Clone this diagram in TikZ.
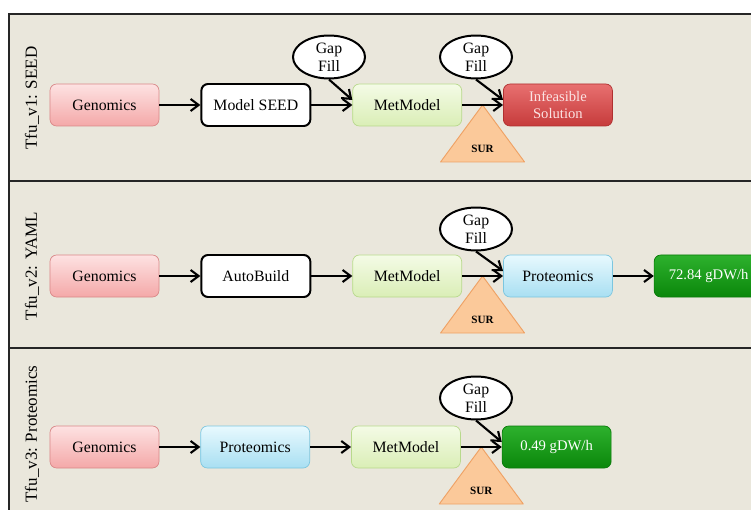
\documentclass[tikz,border=0pt]{standalone}
\usepackage{fontspec}
\setmainfont{Liberation Serif}
\usetikzlibrary{positioning, shapes.geometric, arrows.meta, calc}

\begin{document}
\begin{tikzpicture}
        [ x=0.03cm, y=-0.03cm
        , node distance=1.23cm
        , box/.style={rounded corners=2mm, minimum width=3.27cm, minimum height=1.26cm, inner sep=1mm, line width=0.6pt, font=\fontsize{13.5}{15.5}\selectfont}
        , gen/.style={box, draw=genB, top color=genT, bottom color=genL}
        , plain/.style={box, draw=black, fill=white, line width=1.7pt}
        , met/.style={box, draw=metB, top color=metT, bottom color=metL}
        , prot/.style={box, draw=protB, top color=protT, bottom color=protL}
        , bad/.style={box, draw=badB, top color=badT, bottom color=badL, text=badTx, align=center, font=\fontsize{12.5}{14.5}\selectfont}
        , good/.style={box, draw=goodB, top color=goodT, bottom color=goodL, text=white, font=\fontsize{12.5}{14.5}\selectfont}
        , gap/.style={ellipse, draw, line width=1.7pt, fill=white, minimum width=2.16cm, minimum height=1.29cm, inner sep=0pt, align=center, font=\fontsize{13.5}{15.3}\selectfont}
        , sur/.style={draw=surB, fill=surF, line width=0.8pt, line join=round}
        , surtxt/.style={font=\fontsize{9.5}{11}\selectfont\bfseries}
        , flow/.style={-{Straight Barb[length=2.4mm, width=3.6mm]}, line width=1.8pt}
        , panel/.style={draw=black!85, line width=2pt, fill=panelbg}
        , tag/.style={rotate=90, font=\fontsize{14.5}{17}\selectfont}
        ]
        \definecolor{panelbg}{HTML}{EAE7DC}
        \definecolor{genT}{HTML}{FDE2E2}
        \definecolor{genL}{HTML}{F4A8A8}
        \definecolor{genB}{HTML}{D98888}
        \definecolor{metT}{HTML}{F4FBE6}
        \definecolor{metL}{HTML}{DAEEB6}
        \definecolor{metB}{HTML}{B8D98C}
        \definecolor{protT}{HTML}{E8F9FE}
        \definecolor{protL}{HTML}{A8DFF2}
        \definecolor{protB}{HTML}{7CC6DF}
        \definecolor{badT}{HTML}{E87070}
        \definecolor{badL}{HTML}{C63B3B}
        \definecolor{badB}{HTML}{B03030}
        \definecolor{badTx}{HTML}{FBE3E3}
        \definecolor{goodT}{HTML}{2DB12D}
        \definecolor{goodL}{HTML}{0B870B}
        \definecolor{goodB}{HTML}{0A7A0A}
        \definecolor{surF}{HTML}{FBC99A}
        \definecolor{surB}{HTML}{EFA265}

        \useasboundingbox (0,0) rectangle (751,510);
        \clip (0,0) rectangle (751,510);

        \path[panel] (9,14) rectangle (775,181);
        \path[panel] (9,181) rectangle (775,348);
        \path[panel] (9,348) rectangle (775,530);

        % SEED
        \node (tag1) [tag] at (32,98) {Tfu\_v1: SEED};
            \node (gen1) [gen] at (104.5,105) {Genomics};
            \node (seed1) [plain, right=of gen1] {Model SEED};
            \node (met1) [met, right=of seed1] {MetModel};
            \node (res1) [bad, right=of met1] {Infeasible\\Solution};
            \node (gap1) [gap] at (329,57) {Gap\\Fill};
            \node (gap1b) [gap] at (476,57) {Gap\\Fill};
            \coordinate (sur1) at ($(met1.east)!0.5!(res1.west)$);
            \draw[sur] (sur1) -- ++(-42,57) -- ++(84,0) -- cycle;
            \node (sur1t) [surtxt] at ([yshift=-1.32cm]sur1) {SUR};
        \draw[flow] (gen1) -- (seed1);
        \draw[flow] (seed1) -- (met1);
        \draw[flow] (met1) -- (res1);
        \draw[flow] (gap1.south) -- ([yshift=1.5mm]met1.west);
        \draw[flow] (gap1b.south) -- ([yshift=1.5mm]res1.west);

        % YAML
        \node (tag2) [tag] at (32,266) {Tfu\_v2: YAML};
            \node (gen2) [gen] at (104.5,276) {Genomics};
            \node (auto2) [plain, right=of gen2] {AutoBuild};
            \node (met2) [met, right=of auto2] {MetModel};
            \node (prot2) [prot, right=of met2] {Proteomics};
            \node (res2) [good, right=of prot2] {72.84 gDW/h};
            \node (gap2) [gap] at (476,229) {Gap\\Fill};
            \coordinate (sur2) at ($(met2.east)!0.5!(prot2.west)$);
            \draw[sur] (sur2) -- ++(-42,57) -- ++(84,0) -- cycle;
            \node (sur2t) [surtxt] at ([yshift=-1.32cm]sur2) {SUR};
        \draw[flow] (gen2) -- (auto2);
        \draw[flow] (auto2) -- (met2);
        \draw[flow] (met2) -- (prot2);
        \draw[flow] (prot2) -- (res2);
        \draw[flow] (gap2.south) -- ([yshift=1.5mm]prot2.west);

        % Proteomics
        \node (tag3) [tag] at (32,434) {Tfu\_v3: Proteomics};
            \node (gen3) [gen] at (104.5,447) {Genomics};
            \node (prot3) [prot, right=of gen3] {Proteomics};
            \node (met3) [met, right=of prot3] {MetModel};
            \node (res3) [good, right=of met3] {0.49 gDW/h};
            \node (gap3) [gap] at (476,398) {Gap\\Fill};
            \coordinate (sur3) at ($(met3.east)!0.5!(res3.west)$);
            \draw[sur] (sur3) -- ++(-42,57) -- ++(84,0) -- cycle;
            \node (sur3t) [surtxt] at ([yshift=-1.32cm]sur3) {SUR};
        \draw[flow] (gen3) -- (prot3);
        \draw[flow] (prot3) -- (met3);
        \draw[flow] (met3) -- (res3);
        \draw[flow] (gap3.south) -- ([yshift=1.5mm]res3.west);

\end{tikzpicture}
\end{document}
